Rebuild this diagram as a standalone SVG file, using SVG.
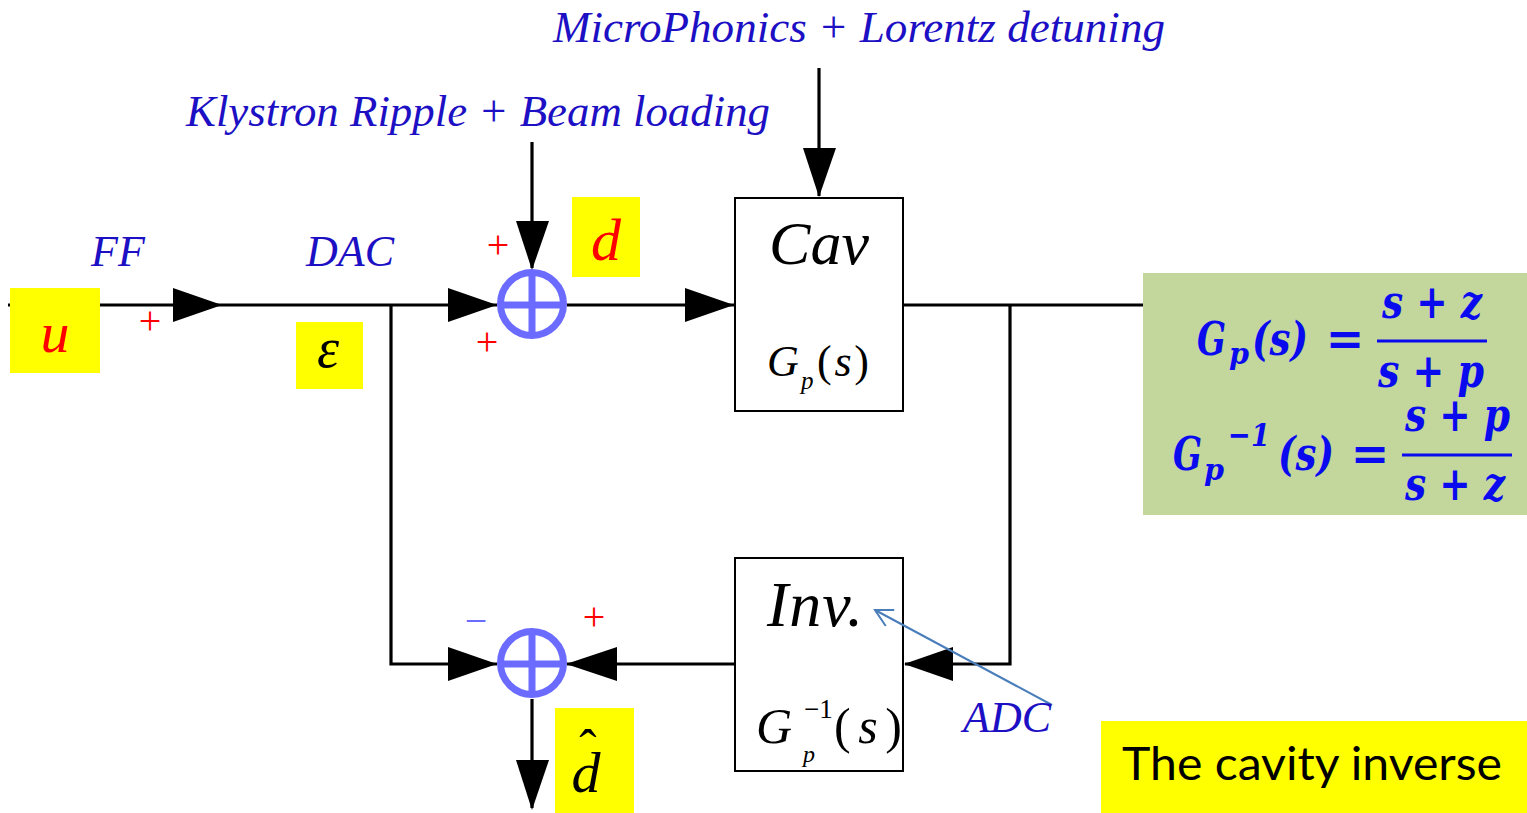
<svg xmlns="http://www.w3.org/2000/svg" width="1527" height="813" viewBox="0 0 1527 813">
<style>
.wire{stroke:#000;stroke-width:3.2;fill:none}
.head{fill:#000}
.box{fill:#fff;stroke:#000;stroke-width:2}
.sum{fill:none;stroke:#6b6bff;stroke-width:7}
.lbl{font-family:"Liberation Serif",serif;font-style:italic;fill:#1c0fc4;font-size:44px}
.sym{font-family:"Liberation Serif",serif;font-style:italic;fill:#000}
.up{font-style:normal}
.red{fill:#ff0000}
.plus{font-family:"Liberation Serif",serif;font-size:40px;fill:#ff0000;text-anchor:middle}
.minus{fill:#6b6bff}
.hl{fill:#ffff00}
.fm{font-family:"DejaVu Serif",serif;font-style:italic;font-weight:bold;fill:#0a0aee}
</style>
<defs>
<marker id="open" viewBox="0 0 20 20" refX="18" refY="10" markerWidth="20" markerHeight="20" markerUnits="userSpaceOnUse" orient="auto">
<polyline points="1,1 18,10 1,19" fill="none" stroke="#4a7ebb" stroke-width="2"/>
</marker>
</defs>
<rect width="1527" height="813" fill="#fff"/>

<g id="connectors">
<line class="wire" x1="8" y1="305" x2="497" y2="305"/>
<polygon class="head" points="173,288 222,305 173,322"/>
<polygon class="head" points="448,288 497,305 448,322"/>
<line class="wire" x1="532" y1="142" x2="532" y2="268"/>
<polygon class="head" points="516,221 549,221 532,270"/>
<line class="wire" x1="567" y1="305" x2="734" y2="305"/>
<polygon class="head" points="685,288 734,305 685,322"/>
<line class="wire" x1="819" y1="68" x2="819" y2="196"/>
<polygon class="head" points="803,148 836,148 819,197"/>
<line class="wire" x1="903" y1="305" x2="1143" y2="305"/>
<polyline class="wire" points="1010,305 1010,664 905,664"/>
<polygon class="head" points="953,647 904,664 953,681"/>
<polyline class="wire" points="391,305 391,664 497,664"/>
<polygon class="head" points="448,647 497,664 448,681"/>
<line class="wire" x1="734" y1="664" x2="567" y2="664"/>
<polygon class="head" points="617,647 566,664 617,681"/>
<line class="wire" x1="532" y1="699" x2="532" y2="808"/>
<polygon class="head" points="516,760 549,760 532,810"/>
</g>

<g id="sum1">
<circle class="sum" cx="532" cy="304" r="31.5"/>
<line class="sum" x1="500" y1="305" x2="564" y2="305" stroke-width="6"/>
<line class="sum" x1="532" y1="272" x2="532" y2="336" stroke-width="6"/>
</g>
<g id="sum2">
<circle class="sum" cx="532" cy="663" r="31.5"/>
<line class="sum" x1="500" y1="664" x2="564" y2="664" stroke-width="6"/>
<line class="sum" x1="532" y1="631" x2="532" y2="695" stroke-width="6"/>
</g>

<g id="cav">
<rect class="box" x="735" y="198" width="168" height="213"/>
<text class="sym" x="819" y="264" font-size="62" text-anchor="middle">Cav</text>
<text class="sym" x="767" y="376" font-size="44">G</text>
<text class="sym" x="801" y="389" font-size="25">p</text>
<text class="sym up" x="817" y="376" font-size="44" textLength="52" lengthAdjust="spacing">(<tspan class="sym">s</tspan>)</text>
</g>

<g id="inv">
<rect class="box" x="735" y="558" width="168" height="213"/>
<text class="sym" x="767" y="626" font-size="64" textLength="96" lengthAdjust="spacing">Inv.</text>
<text class="sym" x="756" y="743" font-size="50">G</text>
<text class="sym up" x="804" y="718" font-size="27">−1</text>
<text class="sym" x="803" y="762" font-size="24">p</text>
<text class="sym up" x="834" y="743" font-size="50" textLength="68" lengthAdjust="spacing">(<tspan class="sym">s</tspan>)</text>
</g>

<g id="formula">
<rect x="1143" y="273" width="384" height="242" fill="#c3d69b"/>
<text class="fm" x="1197" y="355" font-size="46" textLength="29" lengthAdjust="spacingAndGlyphs">G</text>
<text class="fm" x="1229" y="364" font-size="30" textLength="20" lengthAdjust="spacingAndGlyphs">p</text>
<text class="fm" x="1252" y="355" font-size="46" textLength="56" lengthAdjust="spacingAndGlyphs">(s)</text>
<text class="fm up" x="1345" y="355" font-size="46" text-anchor="middle">=</text>
<line x1="1377" y1="341" x2="1487" y2="341" stroke="#0a0aee" stroke-width="3"/>
<text class="fm" x="1382" y="318" font-size="46" textLength="100" lengthAdjust="spacingAndGlyphs">s + z</text>
<text class="fm" x="1378" y="387" font-size="46" textLength="106" lengthAdjust="spacingAndGlyphs">s + p</text>
<text class="fm" x="1173" y="470" font-size="46" textLength="29" lengthAdjust="spacingAndGlyphs">G</text>
<text class="fm" x="1204" y="480" font-size="30" textLength="20" lengthAdjust="spacingAndGlyphs">p</text>
<text class="fm up" x="1228" y="446" font-size="32" textLength="42" lengthAdjust="spacingAndGlyphs">−1</text>
<text class="fm" x="1278" y="470" font-size="46" textLength="56" lengthAdjust="spacingAndGlyphs">(s)</text>
<text class="fm up" x="1370" y="470" font-size="46" text-anchor="middle">=</text>
<line x1="1402" y1="455" x2="1512" y2="455" stroke="#0a0aee" stroke-width="3"/>
<text class="fm" x="1405" y="431" font-size="46" textLength="105" lengthAdjust="spacingAndGlyphs">s + p</text>
<text class="fm" x="1405" y="500" font-size="46" textLength="100" lengthAdjust="spacingAndGlyphs">s + z</text>
</g>

<g id="u">
<rect class="hl" x="10" y="288" width="90" height="85"/>
<text class="sym red" x="55" y="352" font-size="58" text-anchor="middle">u</text>
</g>
<g id="eps">
<rect class="hl" x="296" y="322" width="67" height="67"/>
<text class="sym" x="328" y="367" font-size="56" text-anchor="middle">ε</text>
</g>
<g id="d">
<rect class="hl" x="572" y="197" width="68" height="80"/>
<text class="sym red" x="606" y="260" font-size="60" text-anchor="middle">d</text>
</g>
<g id="dhat">
<rect class="hl" x="555" y="708" width="79" height="105"/>
<text class="sym" x="586" y="792" font-size="58" text-anchor="middle">d</text>
<text class="sym up" x="588" y="766" font-size="52" text-anchor="middle">ˆ</text>
</g>
<g id="note">
<rect class="hl" x="1101" y="721" width="426" height="92"/>
<text x="1122" y="780" font-family="Lato, 'Open Sans', sans-serif" font-size="46" fill="#000" textLength="380" lengthAdjust="spacingAndGlyphs">The cavity inverse</text>
</g>

<g id="pointer">
<line x1="1052" y1="705" x2="875" y2="610" stroke="#4a7ebb" stroke-width="2" marker-end="url(#open)"/>
</g>

<g id="labels">
<text class="lbl" x="553" y="42" textLength="612" lengthAdjust="spacingAndGlyphs">MicroPhonics + Lorentz detuning</text>
<text class="lbl" x="186" y="126" textLength="584" lengthAdjust="spacingAndGlyphs">Klystron Ripple + Beam loading</text>
<text class="lbl" x="91" y="266">FF</text>
<text class="lbl" x="306" y="266">DAC</text>
<text class="lbl" x="963" y="732">ADC</text>
<text class="plus" x="150" y="334">+</text>
<text class="plus" x="498" y="258">+</text>
<text class="plus" x="487" y="355">+</text>
<text class="plus" x="594" y="630">+</text>
<text class="plus minus" x="476" y="634">−</text>
</g>
</svg>
